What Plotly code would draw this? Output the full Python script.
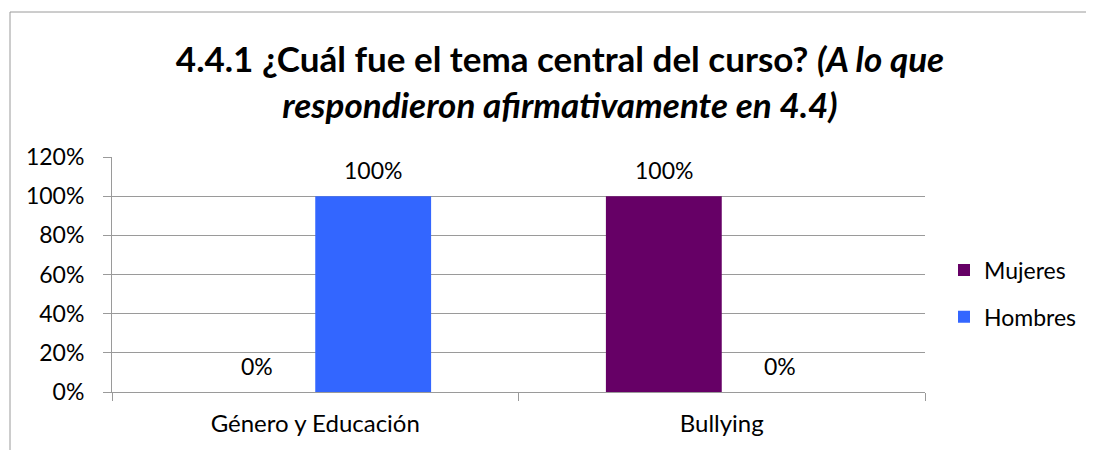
import plotly.graph_objects as go

categories = ["Género y Educación", "Bullying"]
mujeres = [0, 1.0]
hombres = [1.0, 0]
y_ticks = [0, 0.2, 0.4, 0.6, 0.8, 1.0, 1.2]
y_tick_labels = ["0%", "20%", "40%", "60%", "80%", "100%", "120%"]

FONT = "Lato"
OFF = 8  # page body margin
W, H = 1094 - OFF, 450 - OFF
L, T = 112 - OFF, 157 - OFF
R = W - (925 - OFF)
B = H - (392 - OFF)
PW = W - L - R
PH = H - T - B
GRAY = "#9a9a9a"

px = lambda x: (x - OFF - L) / PW
py = lambda y: (H - B - (y - OFF)) / PH

fig = go.Figure()
fig.add_trace(go.Bar(name="Mujeres", x=categories, y=mujeres, marker_color="#660066",
                     marker_line_width=0, legendgroup="m"))
fig.add_trace(go.Bar(name="Hombres", x=categories, y=hombres, marker_color="#3366FF",
                     marker_line_width=0, legendgroup="h"))

# data labels
bar_px = 116
for vals, sh in ((mujeres, -bar_px / 2), (hombres, bar_px / 2)):
    for c, v in zip(categories, vals):
        fig.add_annotation(x=c, y=v, text=f"{v:.0%}", showarrow=False,
                           xshift=sh, yshift=26, xref="x", yref="y",
                           font=dict(family=FONT, size=23, color="#000"))

# chart border (left + top)
fig.add_shape(type="line", xref="paper", yref="paper", x0=px(10), x1=px(1100), y0=py(12), y1=py(12),
              line=dict(color=GRAY, width=1))
fig.add_shape(type="line", xref="paper", yref="paper", x0=px(10), x1=px(10), y0=py(12), y1=py(460),
              line=dict(color=GRAY, width=1))

fig.update_layout(
    width=W, height=H,
    margin=dict(l=L, r=R, t=T, b=B),
    paper_bgcolor="white", plot_bgcolor="white",
    barmode="group", bargap=0.43, bargroupgap=0,
    font=dict(family=FONT, size=23, color="#000"),
    title=dict(text="<b>4.4.1 ¿Cuál fue el tema central del curso? <i>(A lo que<br>respondieron afirmativamente en 4.4)</i></b>",
               x=(560 - OFF) / W, xanchor="center", y=1 - (72 - OFF) / H, yanchor="middle",
               font=dict(family=FONT, size=35, color="#000")),
    legend=dict(x=px(944), y=py(293.5), xanchor="left", yanchor="middle",
                font=dict(family=FONT, size=23), itemwidth=30, tracegroupgap=14,
                bgcolor="rgba(0,0,0,0)"),
    showlegend=True,
)
fig.update_xaxes(showline=True, linecolor=GRAY, linewidth=1, ticks="outside", ticklen=8,
                 tickcolor=GRAY, tickson="boundaries", showgrid=False,
                 ticklabelstandoff=10, tickfont=dict(family=FONT, size=24))
fig.update_yaxes(range=[0, 1.2], tickvals=y_ticks, ticktext=y_tick_labels, showline=True,
                 linecolor=GRAY, linewidth=1, ticks="outside", ticklen=8, tickcolor=GRAY,
                 showgrid=True, gridcolor=GRAY, gridwidth=1, zeroline=False,
                 ticklabelstandoff=14, tickfont=dict(family=FONT, size=23))

fig.write_html("out.html")
